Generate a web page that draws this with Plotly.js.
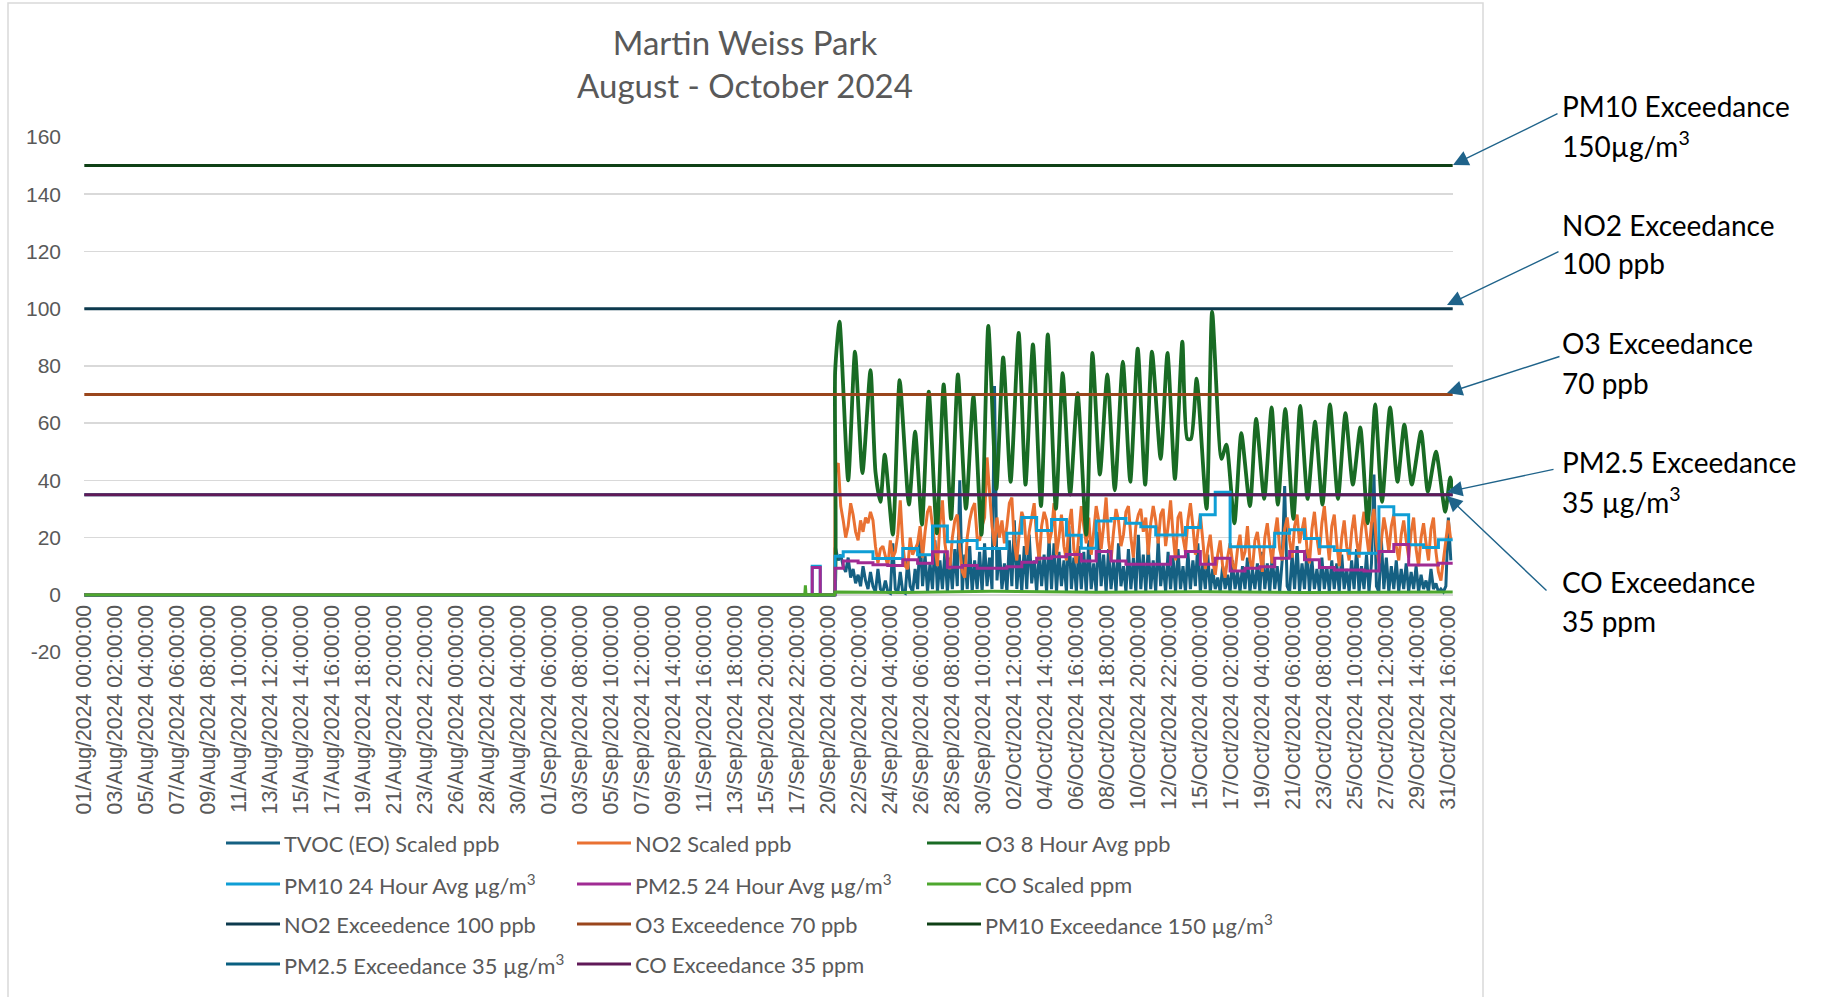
<!DOCTYPE html>
<html>
<head>
<meta charset="utf-8">
<script src="https://cdn.plot.ly/plotly-3.0.1.min.js"></script>
<style>html,body{margin:0;padding:0;background:#fff;}#chart{width:1823px;height:997px;}</style>
</head>
<body>
<div id="chart"></div>
<script>
// ---------------- DATA ----------------
const xTickLabels = [
 '01/Aug/2024 00:00:00','03/Aug/2024 02:00:00','05/Aug/2024 04:00:00','07/Aug/2024 06:00:00','09/Aug/2024 08:00:00',
 '11/Aug/2024 10:00:00','13/Aug/2024 12:00:00','15/Aug/2024 14:00:00','17/Aug/2024 16:00:00','19/Aug/2024 18:00:00',
 '21/Aug/2024 20:00:00','23/Aug/2024 22:00:00','26/Aug/2024 00:00:00','28/Aug/2024 02:00:00','30/Aug/2024 04:00:00',
 '01/Sep/2024 06:00:00','03/Sep/2024 08:00:00','05/Sep/2024 10:00:00','07/Sep/2024 12:00:00','09/Sep/2024 14:00:00',
 '11/Sep/2024 16:00:00','13/Sep/2024 18:00:00','15/Sep/2024 20:00:00','17/Sep/2024 22:00:00','20/Sep/2024 00:00:00',
 '22/Sep/2024 02:00:00','24/Sep/2024 04:00:00','26/Sep/2024 06:00:00','28/Sep/2024 08:00:00','30/Sep/2024 10:00:00',
 '02/Oct/2024 12:00:00','04/Oct/2024 14:00:00','06/Oct/2024 16:00:00','08/Oct/2024 18:00:00','10/Oct/2024 20:00:00',
 '12/Oct/2024 22:00:00','15/Oct/2024 00:00:00','17/Oct/2024 02:00:00','19/Oct/2024 04:00:00','21/Oct/2024 06:00:00',
 '23/Oct/2024 08:00:00','25/Oct/2024 10:00:00','27/Oct/2024 12:00:00','29/Oct/2024 14:00:00','31/Oct/2024 16:00:00'
];
const yTickVals = [-20,0,20,40,60,80,100,120,140,160];
const yTickLabels = ['-20','0','20','40','60','80','100','120','140','160'];

const seriesNames = [
 'TVOC (EO) Scaled ppb','NO2 Scaled ppb','O3 8 Hour Avg ppb',
 'PM10 24 Hour Avg µg/m<sup>3</sup>','PM2.5 24 Hour Avg µg/m<sup>3</sup>','CO Scaled ppm',
 'NO2 Exceedence 100 ppb','O3 Exceedence 70 ppb','PM10 Exceedance 150 µg/m<sup>3</sup>',
 'PM2.5 Exceedance 35 µg/m<sup>3</sup>','CO Exceedance 35 ppm'
];

const periodStart = '2024-08-01 00:00';
const periodEnd = '2024-10-31 23:00';

// O3 8 hour average (daily peaks / troughs)
const o3Time = ['2024-08-01 00:00','2024-09-20 08:00','2024-09-20 10:00','2024-09-20 11:00','2024-09-20 18:00','2024-09-21 08:00','2024-09-21 19:00',
 '2024-09-22 07:00','2024-09-22 20:00','2024-09-23 04:00','2024-09-23 12:00','2024-09-23 19:00','2024-09-24 08:00',
 '2024-09-24 19:00','2024-09-25 10:00','2024-09-25 20:00','2024-09-26 07:00','2024-09-26 18:00','2024-09-27 07:00',
 '2024-09-27 18:00','2024-09-28 06:00','2024-09-28 17:00','2024-09-29 06:00','2024-09-29 18:00','2024-09-30 07:00',
 '2024-09-30 18:00','2024-10-01 07:00','2024-10-01 18:00','2024-10-02 06:00','2024-10-02 19:00','2024-10-03 06:00',
 '2024-10-03 18:00','2024-10-04 07:00','2024-10-04 18:00','2024-10-05 07:00','2024-10-05 18:00','2024-10-06 06:00',
 '2024-10-06 18:00','2024-10-07 08:00','2024-10-07 18:00','2024-10-08 06:00','2024-10-08 18:00','2024-10-09 06:00',
 '2024-10-09 19:00','2024-10-10 07:00','2024-10-10 19:00','2024-10-11 07:00','2024-10-11 18:00','2024-10-12 08:00',
 '2024-10-12 19:00','2024-10-13 07:00','2024-10-13 19:00','2024-10-14 03:00','2024-10-14 09:00','2024-10-14 18:00',
 '2024-10-15 10:00','2024-10-15 19:00','2024-10-16 10:00','2024-10-16 18:00','2024-10-17 07:00','2024-10-17 18:00',
 '2024-10-18 08:00','2024-10-18 18:00','2024-10-19 07:00','2024-10-19 19:00','2024-10-20 05:00','2024-10-20 17:00',
 '2024-10-21 06:00','2024-10-21 17:00','2024-10-22 05:00','2024-10-22 17:00','2024-10-23 05:00','2024-10-23 17:00',
 '2024-10-24 06:00','2024-10-24 18:00','2024-10-25 06:00','2024-10-25 18:00','2024-10-26 06:00','2024-10-26 18:00',
 '2024-10-27 05:00','2024-10-27 18:00','2024-10-28 06:00','2024-10-28 17:00','2024-10-29 05:00','2024-10-29 20:00',
 '2024-10-30 07:00','2024-10-30 20:00','2024-10-31 11:00','2024-10-31 19:00','2024-10-31 23:00'];
const o3Vals = [0,0,0,78,95.5,40,85,
 42.5,78.5,43,32.5,49,21,
 75,31.5,57,24.5,71,21.5,
 73.5,26.5,77,30,69.5,21,
 94,37,83,39.5,91.5,38.5,
 87.5,31,91,30,77.5,35,
 70.5,21,84.5,42,77,36.5,
 81.5,39.5,86,38.5,85,47.5,
 84.5,40.5,88.5,54.5,54.5,75.5,
 30,99,47.5,52.5,25,56.5,
 31,61.5,33.5,65.5,31.5,65,
 26.5,66,33.5,60.5,31.5,66.5,
 33.5,63.5,38.5,58.5,25,66.5,
 32.5,65.5,39.5,59.5,38.5,57,
 36,50,29,41,37];

// NO2 and TVOC: values every 4 hours from 20/Sep 12:00 (00,04,08,12,16,20 per day)
const sampledStart = '2024-09-20 12:00';
const leadTime = ['2024-08-01 00:00','2024-09-20 10:00','2024-09-20 11:00'];
const no2Lead = [0,0,36];
const no2Vals = [
 44,46,31,
 26,20,24,32,28,22,  19,26,22,27,25,29,  26,17,11,16,17,13,  10,19,13,15,21,33,  18,10,9,20,14,16,
 18,24,13,22,29,31,  24,17,10,25,33,18,  12,9,20,26,28,16,   8,6,20,26,30,32,    20,19,24,27,48,36,
 24,17,27,20,26,18,  24,32,34,18,12,22,  29,26,14,22,27,32,  20,12,24,29,26,18,  22,32,14,20,28,17,
 12,24,30,16,11,22,  31,24,18,27,14,22,  31,26,16,24,34,19,  12,22,30,26,17,21,  29,31,20,13,24,28,
 30,22,27,14,25,31,  26,18,28,30,17,24,  33,21,12,27,29,20,  15,26,32,24,14,22,  28,19,9,16,21,12,
 7,14,19,10,6,13,    18,11,8,16,21,12,   15,24,12,9,19,22,   14,8,20,25,17,11,   21,27,16,12,23,27,
 19,13,24,28,18,22,  27,16,11,23,29,20,  14,25,31,21,12,24,  28,18,10,20,26,17,  12,22,28,19,13,23,
 29,21,14,25,30,18,  11,19,27,22,15,24,  28,17,12,21,26,19,  13,22,27,16,10,20,  25,18,12,23,27,15,
 8,5,12,20,26,19];
const tvocLead = [0,0,16];
const tvocVals = [
 16,12,14,
 10,8,13,6,9,4,      7,3,10,5,2,8,       3,1,9,2,1,5,        1,0.5,18,2,0.5,8,   1,0.5,12,3,1,9,
 2,21,3,14,1,11,     2,19,1,12,2,15,     1,13,2,16,3,40,     1,14,2,17,1,12,     2,15,1,18,3,13,
 2,73,5,16,2,11,     1,19,3,26,2,14,     1,17,2,21,4,12,     1,16,3,14,1,20,     2,18,1,15,3,12,
 1,24,2,13,1,17,     2,15,1,19,2,11,     1,22,3,14,1,16,     2,12,1,18,3,10,     1,16,2,13,1,21,
 2,14,1,17,2,12,     1,19,3,11,1,15,     2,13,1,16,2,10,     1,15,2,12,3,18,     1,11,2,14,1,9,
 2,6,1,10,2,7,       1,12,2,8,1,10,      2,13,1,9,2,11,      1,15,2,11,1,14,     2,10,1,12,38,3,
 1,14,2,17,1,11,     2,16,1,12,2,9,      1,13,2,10,1,12,     2,11,1,14,2,9,      1,12,2,16,1,10,
 2,14,1,11,42,3,     1,19,2,13,1,10,     2,12,1,9,2,11,      1,8,2,10,1,7,       2,5,1,9,2,4,
 1,2,1,3,27,12];

// PM10 and PM2.5 24 hour averages (step values)
const pm10Time = ['2024-08-01 00:00','2024-09-18 22:00','2024-09-19 11:00','2024-09-20 11:00','2024-09-21 00:00','2024-09-22 00:00',
 '2024-09-23 00:00','2024-09-24 00:00','2024-09-25 00:00','2024-09-26 00:00','2024-09-27 00:00','2024-09-28 00:00',
 '2024-09-29 00:00','2024-09-30 00:00','2024-10-01 00:00','2024-10-02 00:00','2024-10-03 00:00','2024-10-04 00:00',
 '2024-10-05 00:00','2024-10-06 00:00','2024-10-07 00:00','2024-10-08 00:00','2024-10-09 00:00','2024-10-10 00:00',
 '2024-10-11 00:00','2024-10-12 00:00','2024-10-13 00:00','2024-10-14 00:00','2024-10-15 00:00','2024-10-16 00:00',
 '2024-10-17 00:00','2024-10-18 00:00','2024-10-19 00:00','2024-10-20 00:00','2024-10-21 00:00','2024-10-22 00:00',
 '2024-10-23 00:00','2024-10-24 00:00','2024-10-25 00:00','2024-10-26 00:00','2024-10-27 00:00','2024-10-28 00:00',
 '2024-10-29 00:00','2024-10-30 00:00','2024-10-31 00:00','2024-10-31 23:00'];
const pm10Vals = [0,10,0,13.5,15,15,
 12.7,12.7,16.2,14,24,18.5,
 19,16.2,16.2,21.5,27,22.5,
 26.3,20.8,16.3,25.8,26.7,25,
 23.8,20.9,20.9,23.5,28,35.8,
 16.8,16.8,16.8,21.5,22.7,19.7,
 16.8,15.5,14.5,14.5,30.8,28,
 17.5,16.5,19.2,19.2];
const pm25Time = pm10Time;
const pm25Vals = [0,9.5,0,9.3,11.8,11.2,
 10.5,10.2,12.2,11,15,9.6,
 10.2,9.3,9.3,9.8,11.4,12.8,
 13.3,14.1,11.8,15.1,11.8,10.7,
 10.7,10.7,13.3,15.1,10.7,12.8,
 8.3,9.3,9.8,12.8,15.1,12.2,
 9.5,8.7,8.7,8.3,15.1,17.6,
 10.4,10.4,11,11];

// CO scaled
const coTime = ['2024-08-01 00:00','2024-09-18 10:00','2024-09-18 11:00','2024-09-18 12:00','2024-09-20 10:00','2024-09-20 11:00',
 '2024-09-25 00:00','2024-10-01 00:00','2024-10-08 00:00','2024-10-15 00:00','2024-10-22 00:00','2024-10-31 23:00'];
const coVals = [0,0,3.3,0,0,1,0.8,1.2,0.9,1.1,0.8,1];

// Exceedance thresholds
const no2Exceed = 100, o3Exceed = 70, pm10Exceed = 150, pm25Exceed = 35, coExceed = 35;

// ---------------- STYLE ----------------
const colors = ['#156082','#E97132','#196B24','#0F9ED5','#A02B93','#4EA72E',
                '#0D3A4E','#9A461C','#0F4016','#095F80','#601A58'];
const W = 1823, H = 997;
const px = v => v / W, py = v => 1 - v / H;
const grey = '#595959';

function fmt(d){const p=n=>String(n).padStart(2,'0');
  return d.getUTCFullYear()+'-'+p(d.getUTCMonth()+1)+'-'+p(d.getUTCDate())+' '+p(d.getUTCHours())+':00';}
function sampleTimes(start, n, stepH){
  const t0 = Date.parse(start.replace(' ','T')+':00Z'); const out=[];
  for(let i=0;i<n;i++) out.push(fmt(new Date(t0 + i*stepH*3600000)));
  return out;
}
const months = {Aug:'08',Sep:'09',Oct:'10'};
const xTickVals = xTickLabels.map(s => { const [d,m,rest] = s.split('/'); const [y,t] = rest.split(' ');
  return y+'-'+months[m]+'-'+d+' '+t; });

const no2Time = leadTime.concat(sampleTimes(sampledStart, no2Vals.length, 4));
const tvocTime = leadTime.concat(sampleTimes(sampledStart, tvocVals.length, 4));

function line(name, x, y, color, width, shape, smoothing){
  const ln = {color, width, shape: shape || 'linear'};
  if (smoothing) ln.smoothing = smoothing;
  return {type:'scatter', mode:'lines', name, x, y, showlegend:false, hoverinfo:'skip', line:ln};
}
const flat = (v) => [v, v];
const traces = [
  line(seriesNames[0], tvocTime, tvocLead.concat(tvocVals), colors[0], 3),
  line(seriesNames[1], no2Time, no2Lead.concat(no2Vals), colors[1], 3),
  line(seriesNames[2], o3Time, o3Vals, colors[2], 3.8, 'spline', 0.6),
  line(seriesNames[3], pm10Time, pm10Vals, colors[3], 3, 'hv'),
  line(seriesNames[4], pm25Time, pm25Vals, colors[4], 3, 'hv'),
  line(seriesNames[5], coTime, coVals, colors[5], 3),
  line(seriesNames[6], [periodStart, periodEnd], flat(no2Exceed), colors[6], 3),
  line(seriesNames[7], [periodStart, periodEnd], flat(o3Exceed), colors[7], 3),
  line(seriesNames[8], [periodStart, periodEnd], flat(pm10Exceed), colors[8], 3),
  line(seriesNames[9], [periodStart, periodEnd], flat(pm25Exceed), colors[9], 3),
  line(seriesNames[10], [periodStart, periodEnd], flat(coExceed), colors[10], 3)
];

// geometry (pixels)
const plotL = 84, plotR = 1453, yTopPx = 137, yBotPx = 652; // 160 and -20
const unitPx = (yBotPx - yTopPx) / 180;
const yMin = -20.2, yMax = 160.2;
const domTop = yTopPx - (yMax - 160) * unitPx, domBot = yBotPx + (-20 - yMin) * unitPx;
const zeroPx = yTopPx + 160 * unitPx;

const xTickFont = {family:'"Liberation Sans", Arial, sans-serif', size:21.3, color:grey};
const yTickFont = {family:'"Liberation Sans", Arial, sans-serif', size:21, color:grey};
const shapes = [
  {type:'rect', xref:'paper', yref:'paper', x0:px(8), x1:px(1483), y0:py(1005), y1:py(3),
   line:{color:'#d9d9d9', width:1.5}, fillcolor:'rgba(0,0,0,0)', layer:'below'}
];
const annotations = [];

// custom legend
const legCols = [226, 577, 927], legRows = [843, 884, 924, 964];
seriesNames.forEach((nm, i) => {
  const r = Math.floor(i / 3), c = i % 3;
  const x0 = legCols[c], y0 = legRows[r];
  shapes.push({type:'line', xref:'paper', yref:'paper', x0:px(x0), x1:px(x0+54), y0:py(y0), y1:py(y0),
               line:{color:colors[i], width:3}});
  annotations.push({xref:'paper', yref:'paper', x:px(x0+56), y:py(y0), xanchor:'left', yanchor:'middle',
    text:nm, showarrow:false, font:{family:'Lato, sans-serif', size:21.8, color:grey}});
});

// right-hand callouts
const callouts = [
  {l1:'PM10 Exceedance', l2:'150µg/m<sup>3</sup>', y1:106, y2:144, tip:[1453,165], tail:[1559,113]},
  {l1:'NO2 Exceedance', l2:'100 ppb', y1:225, y2:263, tip:[1447,305], tail:[1560,251]},
  {l1:'O3 Exceedance', l2:'70 ppb', y1:343, y2:383, tip:[1447,393], tail:[1561,356]},
  {l1:'PM2.5 Exceedance', l2:'35 µg/m<sup>3</sup>', y1:462, y2:500, tip:[1447,492], tail:[1555,469]},
  {l1:'CO Exceedance', l2:'35 ppm', y1:582, y2:621, tip:[1447,496], tail:[1548,592]}
];
callouts.forEach(c => {
  [[c.l1,c.y1],[c.l2,c.y2]].forEach(([t,y]) => annotations.push({xref:'paper', yref:'paper', x:px(1560), y:py(y),
    xanchor:'left', yanchor:'middle', text:t, showarrow:false, font:{family:'Lato, sans-serif', size:28, color:'#000'}}));
  annotations.push({xref:'paper', yref:'paper', x:px(c.tip[0]), y:py(c.tip[1]), text:'', showarrow:true,
    axref:'pixel', ayref:'pixel', ax:c.tail[0]-c.tip[0], ay:c.tail[1]-c.tip[1],
    arrowhead:2, arrowsize:2.2, arrowwidth:1.4, arrowcolor:'#1F638A', standoff:0, startstandoff:0});
});

const layout = {
  width:W, height:H, autosize:false,
  margin:{l:0, r:0, t:0, b:0, pad:0},
  paper_bgcolor:'#ffffff', plot_bgcolor:'rgba(0,0,0,0)',
  showlegend:false,
  title:{text:'Martin Weiss Park<br>August - October 2024', x:px(745), xanchor:'center', y:py(55), yanchor:'middle',
         font:{family:'Lato, sans-serif', size:33, color:grey}},
  xaxis:{type:'date', range:['2024-07-31 23:30','2024-10-31 23:30'], domain:[px(plotL), px(plotR)],
         anchor:'free', position:py(zeroPx), tickmode:'array', tickvals:xTickVals, ticktext:xTickLabels,
         tickangle:-90, tickfont:xTickFont, showgrid:false, zeroline:false, ticks:'',
         showline:true, linecolor:'#d9d9d9', linewidth:2.5, layer:'below traces', automargin:false,
         ticklabelstandoff:0, fixedrange:true},
  yaxis:{range:[yMin, yMax], domain:[py(domBot), py(domTop)], tickmode:'array', tickvals:yTickVals, ticktext:yTickLabels,
         tickfont:yTickFont, showgrid:true, gridcolor:'#d9d9d9', gridwidth:1.5, zeroline:false, showline:false,
         ticks:'', automargin:false, ticklabelstandoff:22, fixedrange:true},
  shapes, annotations
};

Plotly.newPlot('chart', traces, layout, {staticPlot:true, displayModeBar:false});
</script>
</body>
</html>
